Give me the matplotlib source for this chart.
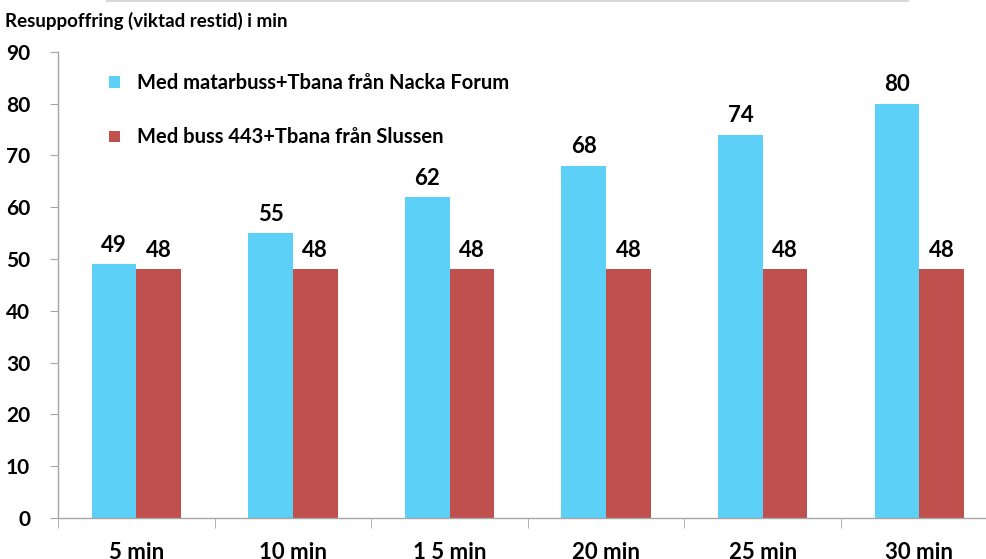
import matplotlib
matplotlib.use('Agg')
import matplotlib.pyplot as plt
from matplotlib.lines import Line2D
import numpy as np

plt.rcParams['font.family'] = ['Lato', 'DejaVu Sans']
plt.rcParams['font.weight'] = 'bold'

# data
categories = ['5 min', '10 min', '1 5 min', '20 min', '25 min', '30 min']
nacka_forum = [49, 55, 62, 68, 74, 80]
slussen = [48, 48, 48, 48, 48, 48]
series_names = ['Med matarbuss+Tbana från Nacka Forum', 'Med buss 443+Tbana från Slussen']
y_ticks = [0, 10, 20, 30, 40, 50, 60, 70, 80, 90]

blue = '#5DD0F8'
red = '#C0504D'
grey = '#A6A6A6'

fig = plt.figure(figsize=(9.86, 5.59), dpi=100)
ax = fig.add_axes([0.0588, 0.0733, 0.953, 0.834])

x = np.arange(len(categories))
w = 0.285
b1 = ax.bar(x - w / 2, nacka_forum, w, color=blue, label=series_names[0])
b2 = ax.bar(x + w / 2, slussen, w, color=red, label=series_names[1])

ax.bar_label(b1, fontsize=16, fontweight='bold', padding=6)
ax.bar_label(b2, fontsize=16, fontweight='bold', padding=6)

ax.set_xlim(-0.5, len(categories) - 0.5)
ax.set_ylim(0, 90)
ax.set_yticks(y_ticks)
ax.set_xticks(x)
ax.set_xticklabels(categories)
ax.set_xticks(np.arange(-0.5, len(categories)), minor=True)

ax.tick_params(axis='x', which='major', length=0, pad=17, labelsize=16)
ax.tick_params(axis='x', which='minor', length=7, color=grey, direction='out')
ax.tick_params(axis='y', length=6, color=grey, pad=14, labelsize=15)
for lab in ax.get_xticklabels() + ax.get_yticklabels():
    lab.set_fontweight('bold')

for s in ['top', 'right']:
    ax.spines[s].set_visible(False)
for s in ['left', 'bottom']:
    ax.spines[s].set_color(grey)
    ax.spines[s].set_linewidth(1)

ax.legend(loc='upper left', bbox_to_anchor=(0.111, 0.869), bbox_transform=fig.transFigure,
          frameon=False, fontsize=14.5, handlelength=0.5, handleheight=0.5,
          handletextpad=0.85, labelspacing=1.7, borderpad=0, borderaxespad=0)

fig.text(0.005, 0.962, 'Resuppoffring (viktad restid) i min', fontsize=13.5,
         fontweight='bold', ha='left', va='center')

# thin grey line along the top edge
fig.add_artist(Line2D([107 / 986, 908 / 986], [0.998, 0.998], color='#D9D9D9',
                      lw=1.5, transform=fig.transFigure))

fig.savefig('out.png', dpi=100)
